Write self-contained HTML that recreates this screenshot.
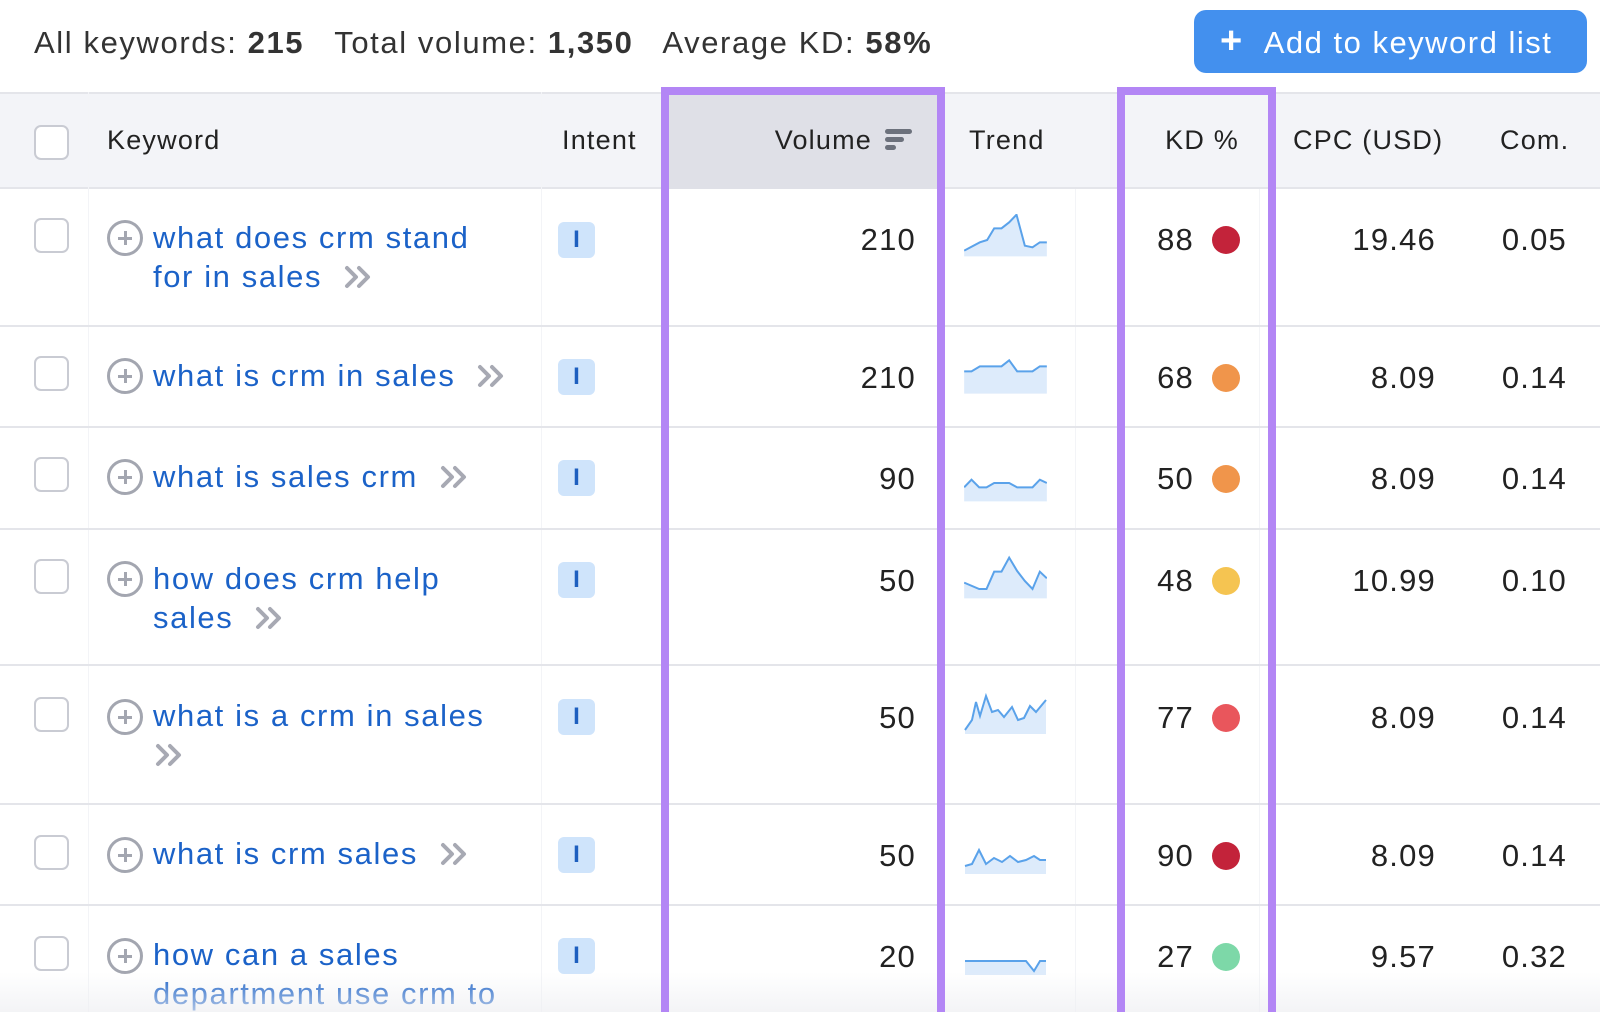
<!DOCTYPE html>
<html style="overflow:hidden"><head><meta charset="utf-8"><style>
*{margin:0;padding:0;box-sizing:border-box}
html,body{width:1600px;height:1012px;overflow:hidden}
body{background:#fff;font-family:"Liberation Sans",sans-serif;color:#222}
#w{position:relative;width:1600px;height:1012px;overflow:hidden}
.a{position:absolute;white-space:nowrap}
.t{font-size:31px;line-height:40px;letter-spacing:1.2px}
.h{font-size:27px;line-height:36px;color:#222;letter-spacing:1.2px}
.lnk{color:#1b62c8;font-size:31px;line-height:39px;letter-spacing:1.6px}
.cb{position:absolute;left:34px;width:35px;height:35px;border:2px solid #c9cbd3;border-radius:7px;background:#fff}
.pl{position:absolute;left:107px;width:36px;height:36px;border:3px solid #a3a6b0;border-radius:50%}
.pl:before{content:"";position:absolute;left:8px;top:13.5px;width:14px;height:3px;background:#a3a6b0}
.pl:after{content:"";position:absolute;left:13.5px;top:8px;width:3px;height:14px;background:#a3a6b0}
.ib{position:absolute;left:558px;width:37px;height:36px;background:#cfe4fb;border-radius:6px;color:#1e5fbf;font-weight:bold;font-size:24px;line-height:36px;text-align:center}
.r{text-align:right}
.dot{position:absolute;left:1212px;width:28px;height:28px;border-radius:50%}
.sep{position:absolute;left:0;width:1600px;height:2px;background:#e4e5ea}
.vs{position:absolute;width:1px;background:#f3f4f7}
.chev{display:inline-block;margin-left:22px;vertical-align:-2px}
svg.tr{position:absolute;left:964px}
</style></head><body><div id="w">
<div class="a t" style="left:34px;top:23px;color:#333;letter-spacing:1.6px">All keywords: <b style="color:#333">215</b>&nbsp;&nbsp; Total volume: <b>1,350</b>&nbsp;&nbsp; Average KD: <b>58%</b></div>
<div class="a" style="left:1194px;top:10px;width:393px;height:63px;background:#4390ee;border-radius:12px;color:#fff;font-size:31px;line-height:63px;letter-spacing:1.5px"><span style="margin-left:26px;font-size:38px;font-weight:bold">+</span><span style="margin-left:20px">Add to keyword list</span></div>
<div class="a" style="left:0;top:92px;width:1600px;height:97px;background:#f3f4f8;border-top:2px solid #e4e5ea;border-bottom:2px solid #e4e5ea"></div>
<div class="a" style="left:661px;top:92px;width:284px;height:97px;background:#dfe0e7"></div>
<div class="cb" style="top:125px"></div>
<div class="a h" style="left:107px;top:122px">Keyword</div>
<div class="a h" style="left:562px;top:122px">Intent</div>
<div class="a h r" style="left:700px;width:172px;top:122px">Volume</div>
<div class="a" style="left:885px;top:129px"><div style="width:27px;height:5px;background:#6c717c;border-radius:3px"></div><div style="width:19px;height:5px;background:#6c717c;border-radius:3px;margin-top:3px"></div><div style="width:11px;height:5px;background:#6c717c;border-radius:3px;margin-top:3px"></div></div>
<div class="a h" style="left:969px;top:122px">Trend</div>
<div class="a h r" style="left:1140px;width:99px;top:122px">KD %</div>
<div class="a h" style="left:1293px;top:122px">CPC (USD)</div>
<div class="a h" style="left:1500px;top:122px">Com.</div>
<div class="vs" style="left:88px;top:92px;height:920px"></div>
<div class="vs" style="left:541px;top:92px;height:920px"></div>
<div class="vs" style="left:1075px;top:189px;height:823px"></div>
<div class="vs" style="left:1259px;top:189px;height:823px"></div>
<div class="sep" style="top:325px"></div>
<div class="sep" style="top:426px"></div>
<div class="sep" style="top:528px"></div>
<div class="sep" style="top:664px"></div>
<div class="sep" style="top:803px"></div>
<div class="sep" style="top:904px"></div>

<div class="cb" style="top:218px"></div><div class="pl" style="top:220px"></div>
<div class="a lnk" style="left:153px;top:218px">what does crm stand<br>for in sales<svg class="chev" width="28" height="24" viewBox="0 0 28 24"><path d="M3,3 12,12 3,21 M15,3 24,12 15,21" fill="none" stroke="#a7a9b3" stroke-width="4" stroke-linecap="round" stroke-linejoin="round"/></svg></div>
<div class="ib" style="top:222px">I</div>
<div class="a t r" style="left:800px;width:116px;top:220px">210</div>
<svg class="tr" style="top:214px" width="83" height="44" viewBox="193 105 248 132"><path d="M193,215 240,190 262,183 283,148 305,148 328,130 350,107 375,200 398,205 420,190 441,190 441,232 193,232Z" fill="#ddebfb"/><path d="M193,215 240,190 262,183 283,148 305,148 328,130 350,107 375,200 398,205 420,190 441,190" fill="none" stroke="#5aa2ea" stroke-width="6"/></svg>
<div class="a t r" style="left:1100px;width:94px;top:220px">88</div><div class="dot" style="top:226px;background:#c3233a"></div>
<div class="a t r" style="left:1300px;width:136px;top:220px">19.46</div>
<div class="a t r" style="left:1460px;width:107px;top:220px">0.05</div>

<div class="cb" style="top:356px"></div><div class="pl" style="top:358px"></div>
<div class="a lnk" style="left:153px;top:356px">what is crm in sales<svg class="chev" width="28" height="24" viewBox="0 0 28 24"><path d="M3,3 12,12 3,21 M15,3 24,12 15,21" fill="none" stroke="#a7a9b3" stroke-width="4" stroke-linecap="round" stroke-linejoin="round"/></svg></div>
<div class="ib" style="top:359px">I</div>
<div class="a t r" style="left:800px;width:116px;top:358px">210</div>
<svg class="tr" style="top:353px" width="83" height="44" viewBox="193 520 248 132"><path d="M193,575 215,575 240,560 305,560 328,542 352,575 398,575 420,560 441,560 441,642 193,642Z" fill="#ddebfb"/><path d="M193,575 215,575 240,560 305,560 328,542 352,575 398,575 420,560 441,560" fill="none" stroke="#5aa2ea" stroke-width="6"/></svg>
<div class="a t r" style="left:1100px;width:94px;top:358px">68</div><div class="dot" style="top:364px;background:#f0954b"></div>
<div class="a t r" style="left:1300px;width:136px;top:358px">8.09</div>
<div class="a t r" style="left:1460px;width:107px;top:358px">0.14</div>

<div class="cb" style="top:457px"></div><div class="pl" style="top:459px"></div>
<div class="a lnk" style="left:153px;top:457px">what is sales crm<svg class="chev" width="28" height="24" viewBox="0 0 28 24"><path d="M3,3 12,12 3,21 M15,3 24,12 15,21" fill="none" stroke="#a7a9b3" stroke-width="4" stroke-linecap="round" stroke-linejoin="round"/></svg></div>
<div class="ib" style="top:460px">I</div>
<div class="a t r" style="left:800px;width:116px;top:459px">90</div>
<svg class="tr" style="top:458px" width="83" height="44" viewBox="193 815 248 132"><path d="M193,903 215,880 238,903 260,903 283,890 328,890 352,903 398,903 420,880 441,890 441,945 193,945Z" fill="#ddebfb"/><path d="M193,903 215,880 238,903 260,903 283,890 328,890 352,903 398,903 420,880 441,890" fill="none" stroke="#5aa2ea" stroke-width="6"/></svg>
<div class="a t r" style="left:1100px;width:94px;top:459px">50</div><div class="dot" style="top:465px;background:#f0954b"></div>
<div class="a t r" style="left:1300px;width:136px;top:459px">8.09</div>
<div class="a t r" style="left:1460px;width:107px;top:459px">0.14</div>

<div class="cb" style="top:559px"></div><div class="pl" style="top:561px"></div>
<div class="a lnk" style="left:153px;top:559px">how does crm help<br>sales<svg class="chev" width="28" height="24" viewBox="0 0 28 24"><path d="M3,3 12,12 3,21 M15,3 24,12 15,21" fill="none" stroke="#a7a9b3" stroke-width="4" stroke-linecap="round" stroke-linejoin="round"/></svg></div>
<div class="ib" style="top:562px">I</div>
<div class="a t r" style="left:800px;width:116px;top:561px">50</div>
<svg class="tr" style="top:555px" width="83" height="44" viewBox="193 1120 248 132"><path d="M193,1203 238,1222 260,1222 283,1170 305,1170 328,1128 352,1168 375,1198 398,1222 420,1170 441,1190 441,1250 193,1250Z" fill="#ddebfb"/><path d="M193,1203 238,1222 260,1222 283,1170 305,1170 328,1128 352,1168 375,1198 398,1222 420,1170 441,1190" fill="none" stroke="#5aa2ea" stroke-width="6"/></svg>
<div class="a t r" style="left:1100px;width:94px;top:561px">48</div><div class="dot" style="top:567px;background:#f5c451"></div>
<div class="a t r" style="left:1300px;width:136px;top:561px">10.99</div>
<div class="a t r" style="left:1460px;width:107px;top:561px">0.10</div>

<div class="cb" style="top:697px"></div><div class="pl" style="top:699px"></div>
<div class="a lnk" style="left:153px;top:696px">what is a crm in sales<br><svg class="chev" style="margin-left:2px" width="28" height="24" viewBox="0 0 28 24"><path d="M3,3 12,12 3,21 M15,3 24,12 15,21" fill="none" stroke="#a7a9b3" stroke-width="4" stroke-linecap="round" stroke-linejoin="round"/></svg></div>
<div class="ib" style="top:699px">I</div>
<div class="a t r" style="left:800px;width:116px;top:698px">50</div>
<svg class="tr" style="top:692px" width="83" height="44" viewBox="0 0 83 44"><path d="M1,38 8,28 12,10 16,24 22,4 28,20 34,18 40,25 48,15 54,28 60,26 66,14 72,20 82,8 82,42 1,42Z" fill="#ddebfb"/><path d="M1,38 8,28 12,10 16,24 22,4 28,20 34,18 40,25 48,15 54,28 60,26 66,14 72,20 82,8" fill="none" stroke="#5aa2ea" stroke-width="2"/></svg>
<div class="a t r" style="left:1100px;width:94px;top:698px">77</div><div class="dot" style="top:704px;background:#e9565c"></div>
<div class="a t r" style="left:1300px;width:136px;top:698px">8.09</div>
<div class="a t r" style="left:1460px;width:107px;top:698px">0.14</div>

<div class="cb" style="top:835px"></div><div class="pl" style="top:837px"></div>
<div class="a lnk" style="left:153px;top:834px">what is crm sales<svg class="chev" width="28" height="24" viewBox="0 0 28 24"><path d="M3,3 12,12 3,21 M15,3 24,12 15,21" fill="none" stroke="#a7a9b3" stroke-width="4" stroke-linecap="round" stroke-linejoin="round"/></svg></div>
<div class="ib" style="top:837px">I</div>
<div class="a t r" style="left:800px;width:116px;top:836px">50</div>
<svg class="tr" style="top:836px" width="83" height="40" viewBox="0 0 83 40"><path d="M1,30 8,28 15,14 22,28 30,22 38,26 46,20 54,26 62,24 70,20 76,24 82,24 82,38 1,38Z" fill="#ddebfb"/><path d="M1,30 8,28 15,14 22,28 30,22 38,26 46,20 54,26 62,24 70,20 76,24 82,24" fill="none" stroke="#5aa2ea" stroke-width="2"/></svg>
<div class="a t r" style="left:1100px;width:94px;top:836px">90</div><div class="dot" style="top:842px;background:#c3233a"></div>
<div class="a t r" style="left:1300px;width:136px;top:836px">8.09</div>
<div class="a t r" style="left:1460px;width:107px;top:836px">0.14</div>

<div class="cb" style="top:936px"></div><div class="pl" style="top:938px"></div>
<div class="a lnk" style="left:153px;top:935px">how can a sales<br>department use crm to</div>
<div class="ib" style="top:938px">I</div>
<div class="a t r" style="left:800px;width:116px;top:937px">20</div>
<svg class="tr" style="top:937px" width="83" height="40" viewBox="0 0 83 40"><path d="M1,24 62,24 70,34 76,24 82,24 82,38 1,38Z" fill="#ddebfb"/><path d="M1,24 62,24 70,34 76,24 82,24" fill="none" stroke="#5aa2ea" stroke-width="2"/></svg>
<div class="a t r" style="left:1100px;width:94px;top:937px">27</div><div class="dot" style="top:943px;background:#7dd8a8"></div>
<div class="a t r" style="left:1300px;width:136px;top:937px">9.57</div>
<div class="a t r" style="left:1460px;width:107px;top:937px">0.32</div>

<div class="a" style="left:0;top:972px;width:1600px;height:40px;background:linear-gradient(to bottom,rgba(255,255,255,0),rgba(238,239,242,0.7))"></div>
<div class="a" style="left:661px;top:87px;width:284px;height:960px;border:8px solid #b386f5"></div>
<div class="a" style="left:1117px;top:87px;width:159px;height:960px;border:8px solid #b386f5"></div>
</div></body></html>
